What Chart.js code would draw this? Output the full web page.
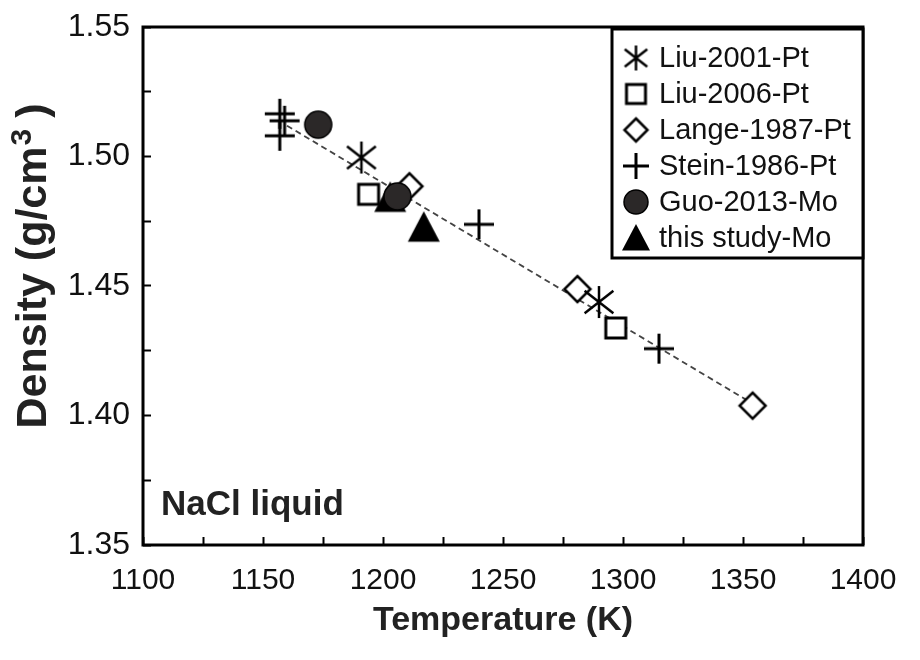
<!DOCTYPE html>
<html>
<head>
<meta charset="utf-8">
<script src="https://cdn.jsdelivr.net/npm/chart.js@4.4.0/dist/chart.umd.min.js"></script>
<style>
html, body { margin: 0; padding: 0; background: #fff; }
</style>
</head>
<body>
<canvas id="myChart" width="920" height="660"></canvas>
<script>
// series names, in legend order
var seriesNames = ["Liu-2001-Pt", "Liu-2006-Pt", "Lange-1987-Pt", "Stein-1986-Pt", "Guo-2013-Mo", "this study-Mo"];

// temperature (K) and density (g/cm3)
var liu2001T = [1191, 1290];
var liu2001D = [1.4996, 1.4438];
var liu2006T = [1194, 1297];
var liu2006D = [1.4854, 1.4338];
var lange1987T = [1211, 1281, 1354];
var lange1987D = [1.4885, 1.4488, 1.4038];
var stein1986T = [1157, 1159, 1157, 1240, 1315];
var stein1986D = [1.5165, 1.5138, 1.5080, 1.4738, 1.4258];
var guo2013T = [1173, 1206];
var guo2013D = [1.5123, 1.4846];
var thisStudyT = [1203, 1217];
var thisStudyD = [1.4842, 1.4727];

// dashed fit line end points
var fitT = [1160, 1354];
var fitD = [1.5119, 1.4046];

// tick labels
var xTickValues = [1100, 1150, 1200, 1250, 1300, 1350, 1400];
var xTickLabels = ["1100", "1150", "1200", "1250", "1300", "1350", "1400"];
var yTickValues = [1.35, 1.40, 1.45, 1.50, 1.55];
var yTickLabels = ["1.35", "1.40", "1.45", "1.50", "1.55"];

var panelLabel = "NaCl liquid";
var yTitleParts = ["Density (g/cm", "3", " )"];

function toPoints(xs, ys) {
	var pts = [];
	for (var i = 0; i < xs.length; i++) {
		pts.push({x: xs[i], y: ys[i]});
	}
	return pts;
}

function labelFor(v, values, labels) {
	for (var i = 0; i < values.length; i++) {
		if (Math.abs(v - values[i]) < 1e-6) return labels[i];
	}
	return "";
}

// marker images
function makeMarker(kind, s) {
	var n = Math.ceil(s + 8);
	var c = document.createElement("canvas");
	c.width = n;
	c.height = n;
	var g = c.getContext("2d");
	var m = n / 2, r = s / 2;
	g.strokeStyle = "#000";
	g.fillStyle = "#fff";
	g.lineCap = "butt";
	if (kind == "asterisk") {
		g.lineWidth = 2.5;
		g.beginPath();
		g.moveTo(m, m - r); g.lineTo(m, m + r);
		g.moveTo(m - r * 0.9, m - r * 0.7); g.lineTo(m + r * 0.9, m + r * 0.7);
		g.moveTo(m - r * 0.9, m + r * 0.7); g.lineTo(m + r * 0.9, m - r * 0.7);
		g.stroke();
	} else if (kind == "square") {
		g.lineWidth = 3;
		g.fillRect(m - r, m - r, s, s);
		g.strokeRect(m - r, m - r, s, s);
	} else if (kind == "diamond") {
		g.lineWidth = 2.5;
		g.beginPath();
		g.moveTo(m, m - r); g.lineTo(m + r, m); g.lineTo(m, m + r); g.lineTo(m - r, m);
		g.closePath();
		g.fill();
		g.stroke();
	} else if (kind == "plus") {
		g.lineWidth = 3;
		g.beginPath();
		g.moveTo(m, m - r); g.lineTo(m, m + r);
		g.moveTo(m - r, m); g.lineTo(m + r, m);
		g.stroke();
	} else if (kind == "circle") {
		g.lineWidth = 1.5;
		g.fillStyle = "#2b2828";
		g.beginPath();
		g.arc(m, m, r, 0, Math.PI * 2);
		g.fill();
		g.stroke();
	} else if (kind == "triangle") {
		g.fillStyle = "#000";
		g.beginPath();
		g.moveTo(m, m - r); g.lineTo(m + r, m + r * 0.9); g.lineTo(m - r, m + r * 0.9);
		g.closePath();
		g.fill();
	}
	return c;
}

var plotMarkers = [
	makeMarker("asterisk", 32),
	makeMarker("square", 20),
	makeMarker("diamond", 26),
	makeMarker("plus", 30),
	makeMarker("circle", 27),
	makeMarker("triangle", 32)
];
var legendMarkers = [
	makeMarker("asterisk", 25),
	makeMarker("square", 19),
	makeMarker("diamond", 23),
	makeMarker("plus", 26),
	makeMarker("circle", 24),
	makeMarker("triangle", 28)
];

// frame, legend box, y title and panel label
var decorPlugin = {
	id: "decor",
	afterDatasetsDraw: function (chart) {
		var ctx = chart.ctx;
		var a = chart.chartArea;
		ctx.save();
		ctx.strokeStyle = "#000";
		ctx.lineWidth = 3;
		ctx.strokeRect(a.left, a.top, a.right - a.left, a.bottom - a.top);

		// legend
		var bx = 612, by = a.top + 2, bw = a.right - 612, bh = 258 - by;
		ctx.fillStyle = "#fff";
		ctx.fillRect(bx, by, bw, bh);
		ctx.strokeRect(bx, by, bw, bh);
		ctx.font = "29px 'Liberation Sans', Arial, sans-serif";
		ctx.textBaseline = "middle";
		ctx.textAlign = "left";
		ctx.fillStyle = "#111";
		for (var i = 0; i < seriesNames.length; i++) {
			var y = 58 + 36 * i;
			var img = legendMarkers[i];
			ctx.drawImage(img, 636 - img.width / 2, y - img.height / 2);
			ctx.fillText(seriesNames[i], 659, y + 1);
		}

		ctx.font = "bold 35px 'Liberation Sans', Arial, sans-serif";
		ctx.textBaseline = "alphabetic";
		ctx.fillStyle = "#222";
		ctx.fillText(panelLabel, a.left + 18, 515);

		// y axis title, rotated, with raised 3
		var f1 = "bold 43px 'Liberation Sans', Arial, sans-serif";
		var f2 = "bold 30px 'Liberation Sans', Arial, sans-serif";
		ctx.font = f1;
		var w0 = ctx.measureText(yTitleParts[0]).width;
		var w2 = ctx.measureText(yTitleParts[2]).width;
		ctx.font = f2;
		var w1 = ctx.measureText(yTitleParts[1]).width;
		var total = w0 + w1 + w2;
		ctx.translate(46, 266);
		ctx.rotate(-Math.PI / 2);
		ctx.fillStyle = "#222";
		var x0 = -total / 2;
		ctx.font = f1;
		ctx.fillText(yTitleParts[0], x0, 0);
		ctx.font = f2;
		ctx.fillText(yTitleParts[1], x0 + w0 + 1, -15);
		ctx.font = f1;
		ctx.fillText(yTitleParts[2], x0 + w0 + w1, 0);
		ctx.restore();
	}
};

var datasets = [];
var xs = [liu2001T, liu2006T, lange1987T, stein1986T, guo2013T, thisStudyT];
var ys = [liu2001D, liu2006D, lange1987D, stein1986D, guo2013D, thisStudyD];
var drawOrder = [3, 4, 5, 2, 1, 6];
for (var i = 0; i < seriesNames.length; i++) {
	datasets.push({
		type: "scatter",
		label: seriesNames[i],
		data: toPoints(xs[i], ys[i]),
		pointStyle: plotMarkers[i],
		pointRadius: 14,
		order: drawOrder[i]
	});
}
datasets.push({
	type: "line",
	label: "fit",
	data: toPoints(fitT, fitD),
	borderColor: "#444",
	borderWidth: 1.8,
	borderDash: [6, 4],
	pointRadius: 0,
	fill: false,
	order: 10
});

new Chart("myChart", {
	type: "scatter",
	data: {datasets: datasets},
	plugins: [decorPlugin],
	options: {
		responsive: false,
		animation: false,
		layout: {padding: {top: 27, right: 57, left: 0, bottom: 0}},
		plugins: {
			legend: {display: false},
			tooltip: {enabled: false}
		},
		scales: {
			x: {
				type: "linear",
				min: 1100,
				max: 1400,
				afterFit: function (scale) {
					scale.height = 115;
					scale.paddingLeft = 0;
					scale.paddingRight = 0;
				},
				border: {display: false},
				grid: {drawOnChartArea: false, tickLength: -8, tickWidth: 2, tickColor: "#000"},
				ticks: {
					stepSize: 25,
					autoSkip: false,
					maxRotation: 0,
					padding: 26,
					color: "#111",
					font: {family: "'Liberation Sans', Arial", size: 30},
					callback: function (v) { return labelFor(v, xTickValues, xTickLabels); }
				},
				title: {
					display: true,
					text: "Temperature (K)",
					color: "#222",
					font: {family: "'Liberation Sans', Arial", size: 34, weight: "bold"},
					padding: {top: 0, bottom: 19}
				}
			},
			y: {
				type: "linear",
				min: 1.35,
				max: 1.55,
				afterFit: function (scale) {
					scale.width = 143;
					scale.paddingTop = 0;
					scale.paddingBottom = 0;
				},
				border: {display: false},
				grid: {drawOnChartArea: false, tickLength: -8, tickWidth: 2, tickColor: "#000"},
				ticks: {
					stepSize: 0.025,
					autoSkip: false,
					padding: 21,
					color: "#111",
					font: {family: "'Liberation Sans', Arial", size: 32},
					callback: function (v) { return labelFor(v, yTickValues, yTickLabels); }
				},
				title: {display: false}
			}
		}
	}
});
</script>
</body>
</html>
